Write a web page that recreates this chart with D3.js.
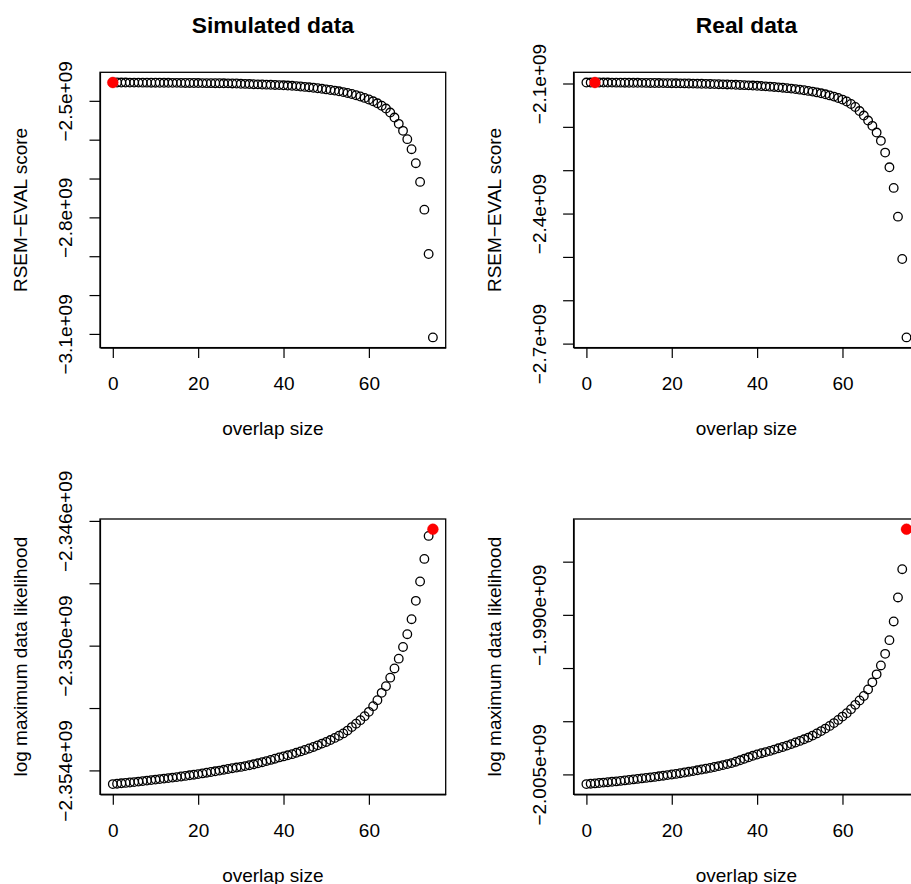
<!DOCTYPE html>
<html>
<head>
<meta charset="utf-8">
<script src="https://cdn.jsdelivr.net/npm/d3@7/dist/d3.min.js"></script>
<style>
  body { margin: 0; background: #fff; }
  svg text { font-family: "Liberation Sans", Arial, Helvetica, sans-serif; fill: #000; }
</style>
</head>
<body>
<svg id="chart"></svg>
<script>
// overlap size on the x axis (same for all four panels)
var overlapSize = [0, 1, 2, 3, 4, 5, 6, 7, 8, 9, 10, 11, 12, 13, 14, 15, 16, 17, 18, 19,
  20, 21, 22, 23, 24, 25, 26, 27, 28, 29, 30, 31, 32, 33, 34, 35, 36, 37, 38, 39,
  40, 41, 42, 43, 44, 45, 46, 47, 48, 49, 50, 51, 52, 53, 54, 55, 56, 57, 58, 59,
  60, 61, 62, 63, 64, 65, 66, 67, 68, 69, 70, 71, 72, 73, 74, 75];
var xTicks = [0, 20, 40, 60];

// RSEM-EVAL score, simulated data
var simRsem = [
  -2.45280e9, -2.45285e9, -2.45290e9, -2.45295e9, -2.45301e9, -2.45306e9, -2.45311e9, -2.45316e9, -2.45321e9, -2.45329e9,
  -2.45337e9, -2.45344e9, -2.45352e9, -2.45360e9, -2.45368e9, -2.45375e9, -2.45383e9, -2.45391e9, -2.45401e9, -2.45411e9,
  -2.45422e9, -2.45432e9, -2.45442e9, -2.45453e9, -2.45466e9, -2.45478e9, -2.45491e9, -2.45504e9, -2.45520e9, -2.45535e9,
  -2.45615e9, -2.45646e9, -2.45679e9, -2.45716e9, -2.45754e9, -2.45795e9, -2.45834e9, -2.45873e9, -2.45911e9, -2.45955e9,
  -2.46002e9, -2.46066e9, -2.46130e9, -2.46208e9, -2.46311e9, -2.46414e9, -2.46517e9, -2.46633e9, -2.46762e9, -2.46904e9,
  -2.47058e9, -2.47213e9, -2.47368e9, -2.47548e9, -2.47754e9, -2.47986e9, -2.48244e9, -2.48553e9, -2.48888e9, -2.49249e9,
  -2.49661e9, -2.50125e9, -2.50641e9, -2.51259e9, -2.51981e9, -2.53012e9, -2.54301e9, -2.55924e9, -2.57728e9, -2.59868e9,
  -2.62445e9, -2.66053e9, -2.70873e9, -2.78012e9, -2.89429e9, -3.10899e9];
var simRsemTicks = [-2.5e9, -2.6e9, -2.7e9, -2.8e9, -2.9e9, -3.0e9, -3.1e9];
var simRsemLabels = ["\u22122.5e+09", "", "", "\u22122.8e+09", "", "", "\u22123.1e+09"];

// RSEM-EVAL score, real data
var realRsem = [
  -2.09781e9, -2.09776e9, -2.09769e9, -2.09774e9, -2.09781e9, -2.09787e9, -2.09794e9, -2.09801e9, -2.09808e9, -2.09815e9,
  -2.09824e9, -2.09834e9, -2.09843e9, -2.09852e9, -2.09861e9, -2.09873e9, -2.09884e9, -2.09896e9, -2.09908e9, -2.09921e9,
  -2.09935e9, -2.09949e9, -2.09965e9, -2.09981e9, -2.10000e9, -2.10018e9, -2.10039e9, -2.10060e9, -2.10083e9, -2.10109e9,
  -2.10134e9, -2.10162e9, -2.10192e9, -2.10224e9, -2.10259e9, -2.10296e9, -2.10335e9, -2.10379e9, -2.10425e9, -2.10476e9,
  -2.10531e9, -2.10591e9, -2.10656e9, -2.10725e9, -2.10801e9, -2.10884e9, -2.10975e9, -2.11072e9, -2.11178e9, -2.11293e9,
  -2.11420e9, -2.11559e9, -2.11709e9, -2.11871e9, -2.12055e9, -2.12263e9, -2.12494e9, -2.12748e9, -2.13025e9, -2.13349e9,
  -2.13718e9, -2.14157e9, -2.14734e9, -2.15427e9, -2.16351e9, -2.17390e9, -2.18545e9, -2.19769e9, -2.21317e9, -2.23233e9,
  -2.25936e9, -2.29330e9, -2.34088e9, -2.40716e9, -2.50485e9, -2.68569e9];
var realRsemTicks = [-2.1e9, -2.2e9, -2.3e9, -2.4e9, -2.5e9, -2.6e9, -2.7e9];
var realRsemLabels = ["\u22122.1e+09", "", "", "\u22122.4e+09", "", "", "\u22122.7e+09"];

// log maximum data likelihood, simulated data
var simLik = [
  -2.354439e9, -2.354426e9, -2.354413e9, -2.354401e9, -2.354388e9, -2.354375e9, -2.354359e9, -2.354343e9, -2.354327e9, -2.354311e9,
  -2.354295e9, -2.354279e9, -2.354263e9, -2.354247e9, -2.354231e9, -2.354215e9, -2.354196e9, -2.354176e9, -2.354157e9, -2.354138e9,
  -2.354119e9, -2.354096e9, -2.354074e9, -2.354051e9, -2.354029e9, -2.354006e9, -2.353981e9, -2.353955e9, -2.353929e9, -2.353908e9,
  -2.353888e9, -2.353862e9, -2.353833e9, -2.353804e9, -2.353772e9, -2.353737e9, -2.353702e9, -2.353663e9, -2.353625e9, -2.353583e9,
  -2.353551e9, -2.353516e9, -2.353478e9, -2.353436e9, -2.353391e9, -2.353346e9, -2.353298e9, -2.353247e9, -2.353196e9, -2.353141e9,
  -2.353087e9, -2.353026e9, -2.352958e9, -2.352888e9, -2.352814e9, -2.352724e9, -2.352612e9, -2.352500e9, -2.352388e9, -2.352260e9,
  -2.352122e9, -2.351939e9, -2.351747e9, -2.351513e9, -2.351298e9, -2.351026e9, -2.350731e9, -2.350417e9, -2.350042e9, -2.349632e9,
  -2.349151e9, -2.348564e9, -2.347943e9, -2.347218e9, -2.346481e9, -2.346266e9];
var simLikTicks = [-2.346e9, -2.348e9, -2.350e9, -2.352e9, -2.354e9];
var simLikLabels = ["\u22122.346e+09", "", "\u22122.350e+09", "", "\u22122.354e+09"];

// log maximum data likelihood, real data
var realLik = [
  -2.005912e9, -2.005874e9, -2.005846e9, -2.005808e9, -2.005771e9, -2.005733e9, -2.005695e9, -2.005658e9, -2.005611e9, -2.005564e9,
  -2.005517e9, -2.005470e9, -2.005423e9, -2.005376e9, -2.005329e9, -2.005282e9, -2.005235e9, -2.005179e9, -2.005122e9, -2.005066e9,
  -2.005009e9, -2.004953e9, -2.004887e9, -2.004821e9, -2.004756e9, -2.004690e9, -2.004615e9, -2.004539e9, -2.004464e9, -2.004389e9,
  -2.004305e9, -2.004220e9, -2.004126e9, -2.004032e9, -2.003938e9, -2.003806e9, -2.003675e9, -2.003534e9, -2.003393e9, -2.003252e9,
  -2.003130e9, -2.003008e9, -2.002904e9, -2.002791e9, -2.002669e9, -2.002547e9, -2.002425e9, -2.002293e9, -2.002152e9, -2.002002e9,
  -2.001852e9, -2.001701e9, -2.001542e9, -2.001354e9, -2.001147e9, -2.000931e9, -2.000696e9, -2.000442e9, -2.000179e9, -1.999878e9,
  -1.999568e9, -1.999239e9, -1.998863e9, -1.998459e9, -1.998045e9, -1.997623e9, -1.997012e9, -1.996344e9, -1.995593e9, -1.994756e9,
  -1.993666e9, -1.992378e9, -1.990621e9, -1.988366e9, -1.985706e9, -1.981947e9];
var realLikTicks = [-1.985e9, -1.990e9, -1.995e9, -2.000e9, -2.005e9];
var realLikLabels = ["", "\u22121.990e+09", "", "", "\u22122.005e+09"];

// afmetingen
var width = 911, height = 884;
var boxW = 345.7, boxH = 275.3;
var fontSize = 19;

var svg = d3.select("#chart")
  .attr("width", width)
  .attr("height", height);

// de vier panelen
var panels = [
  {left: 100, top: 72.3, title: "Simulated data", ylab: "RSEM\u2212EVAL score",
   values: simRsem, ticks: simRsemTicks, labels: simRsemLabels},
  {left: 573.6, top: 72.3, title: "Real data", ylab: "RSEM\u2212EVAL score",
   values: realRsem, ticks: realRsemTicks, labels: realRsemLabels},
  {left: 100, top: 519, title: null, ylab: "log maximum data likelihood",
   values: simLik, ticks: simLikTicks, labels: simLikLabels},
  {left: 573.6, top: 519, title: null, ylab: "log maximum data likelihood",
   values: realLik, ticks: realLikTicks, labels: realLikLabels}
];

// R breidt het bereik 4% uit aan beide kanten
function padded(ext) {
  var d = (ext[1] - ext[0]) * 0.04;
  return [ext[0] - d, ext[1] + d];
}

function drawPanel(p) {
  var g = svg.append("g")
    .attr("transform", "translate(" + p.left + "," + p.top + ")");

  var x = d3.scaleLinear()
    .domain(padded(d3.extent(overlapSize)))
    .range([0, boxW]);

  var y = d3.scaleLinear()
    .domain(padded(d3.extent(p.values)))
    .range([boxH, 0]);

  // x as
  var xAxis = g.append("g")
    .attr("transform", "translate(0," + boxH + ")")
    .call(d3.axisBottom(x).tickValues(xTicks).tickSize(10.5).tickSizeOuter(0));
  xAxis.selectAll("text")
    .attr("y", 42.3)
    .attr("dy", 0)
    .attr("font-size", fontSize);

  // y as, labels gedraaid zoals in R
  var yAxis = g.append("g")
    .call(d3.axisLeft(y).tickValues(p.ticks).tickSize(10.5).tickSizeOuter(0)
      .tickFormat(function(d, i) { return p.labels[i]; }));
  yAxis.selectAll("text")
    .attr("transform", "rotate(-90)")
    .attr("x", 0)
    .attr("y", -28)
    .attr("dy", 0)
    .attr("text-anchor", "middle")
    .attr("font-size", fontSize);

  [xAxis, yAxis].forEach(function(a) {
    a.attr("font-family", null);
    a.selectAll("line").attr("stroke", "#000").attr("stroke-width", 1.2);
    a.select(".domain").attr("stroke", "#000").attr("stroke-width", 1.2);
  });

  // kader
  g.append("rect")
    .attr("width", boxW)
    .attr("height", boxH)
    .attr("fill", "none")
    .attr("stroke", "#000")
    .attr("stroke-width", 1.3);

  // punten
  g.selectAll(".pt")
    .data(p.values)
    .enter().append("circle")
    .attr("class", "pt")
    .attr("cx", function(d, i) { return x(overlapSize[i]); })
    .attr("cy", function(d) { return y(d); })
    .attr("r", 4.3)
    .attr("fill", "none")
    .attr("stroke", "#000")
    .attr("stroke-width", 1.3);

  // maximum in rood
  var best = d3.maxIndex(p.values);
  g.append("circle")
    .attr("cx", x(overlapSize[best]))
    .attr("cy", y(p.values[best]))
    .attr("r", 5.4)
    .attr("fill", "#ff0000")
    .attr("stroke", "#ff0000")
    .attr("stroke-width", 0.5);

  // as titels
  g.append("text")
    .attr("x", boxW / 2)
    .attr("y", boxH + 87.3)
    .attr("text-anchor", "middle")
    .attr("font-size", fontSize)
    .text("overlap size");

  g.append("text")
    .attr("transform", "translate(-73," + (boxH / 2) + ") rotate(-90)")
    .attr("text-anchor", "middle")
    .attr("font-size", fontSize)
    .text(p.ylab);

  if (p.title) {
    g.append("text")
      .attr("x", boxW / 2)
      .attr("y", 33.3 - p.top)
      .attr("text-anchor", "middle")
      .attr("font-size", 22.8)
      .attr("font-weight", "bold")
      .text(p.title);
  }
}

panels.forEach(drawPanel);
</script>
</body>
</html>
